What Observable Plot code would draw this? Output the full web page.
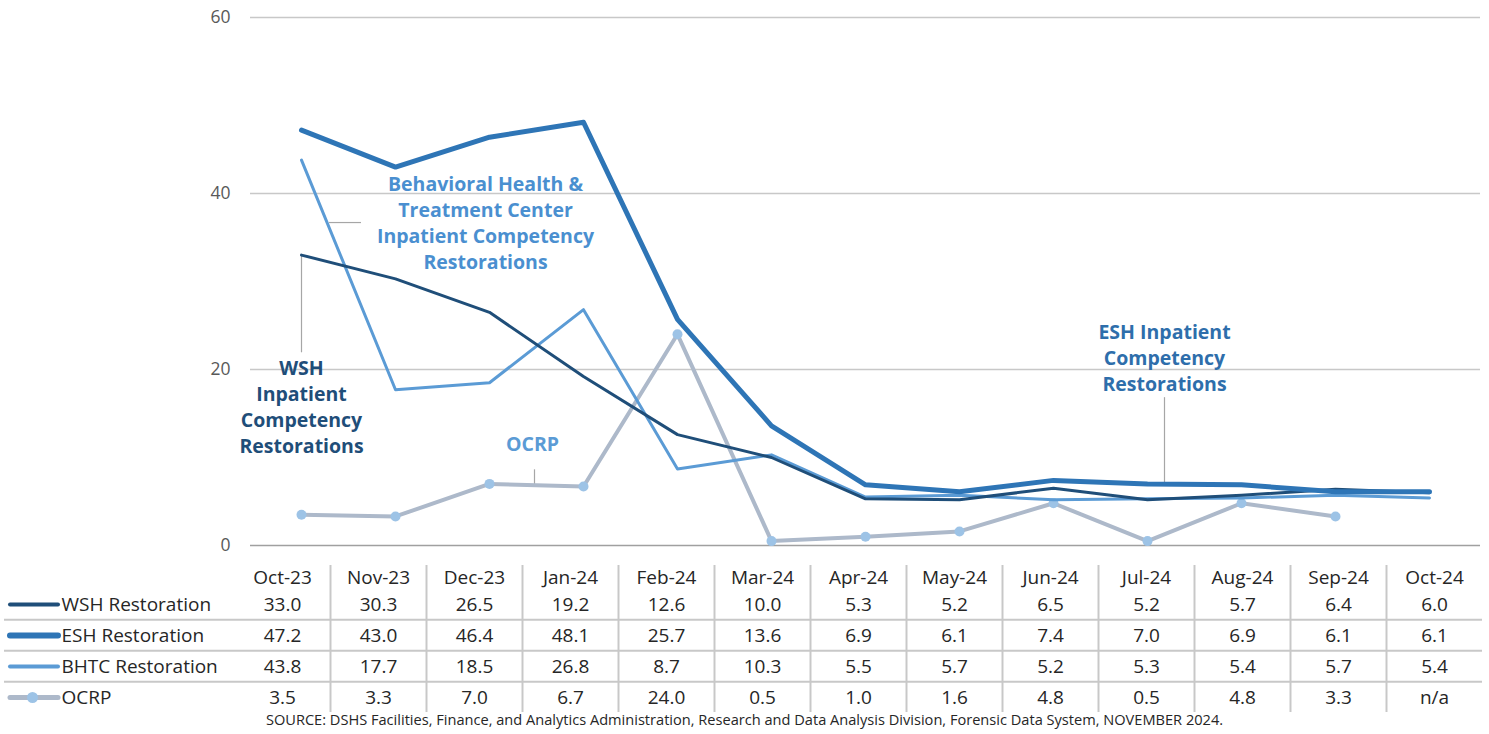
<!DOCTYPE html>
<html>
<head>
<meta charset="utf-8">
<script src="https://cdn.jsdelivr.net/npm/d3@7"></script>
<script src="https://cdn.jsdelivr.net/npm/@observablehq/plot@0.6"></script>
<style>
  html, body { margin: 0; padding: 0; background: #fff; }
  #wrap { width: 1489px; height: 734px; position: relative; overflow: hidden; font-family: "Open Sans", Lato, sans-serif; }
  #wrap svg { display: block; }
  #source { position: absolute; left: 0; top: 711px; width: 1489px; text-align: center; font-size: 14.6px; color: #262626; line-height: 17px; font-family: "Open Sans", Lato, sans-serif; }
</style>
</head>
<body>
<div id="wrap"></div>
<script>
const months = ["Oct-23","Nov-23","Dec-23","Jan-24","Feb-24","Mar-24","Apr-24","May-24","Jun-24","Jul-24","Aug-24","Sep-24","Oct-24"];
const wsh  = [33.0, 30.3, 26.5, 19.2, 12.6, 10.0, 5.3, 5.2, 6.5, 5.2, 5.7, 6.4, 6.0];
const esh  = [47.2, 43.0, 46.4, 48.1, 25.7, 13.6, 6.9, 6.1, 7.4, 7.0, 6.9, 6.1, 6.1];
const bhtc = [43.8, 17.7, 18.5, 26.8, 8.7, 10.3, 5.5, 5.7, 5.2, 5.3, 5.4, 5.7, 5.4];
const ocrp = [3.5, 3.3, 7.0, 6.7, 24.0, 0.5, 1.0, 1.6, 4.8, 0.5, 4.8, 3.3, null];
const seriesNames = ["WSH Restoration", "ESH Restoration", "BHTC Restoration", "OCRP"];
const yTicks = [0, 20, 40, 60];

const C = {wsh: "#1f4e79", esh: "#2e75b6", bhtc: "#5b9bd5", ocrpLine: "#adb9ca", ocrpDot: "#9dc3e6"};
const toRows = (arr) => months.map((m, i) => ({m, v: arr[i]}));
const WSH = toRows(wsh), ESH = toRows(esh), BHTC = toRows(bhtc), OCRP = toRows(ocrp);

const font = "'Open Sans', Lato, sans-serif";
const labelFont = {fontFamily: font, fontWeight: "bold", fontSize: 19.5, lineHeight: 1.33, textAnchor: "middle"};

const chart = Plot.plot({
  width: 1489, height: 560,
  marginLeft: 250, marginRight: 9, marginTop: 17, marginBottom: 15,
  style: {fontFamily: font, background: "#fff", overflow: "visible"},
  x: {type: "point", domain: months, padding: 0.5, axis: null},
  y: {domain: [0, 60], ticks: yTicks, label: null},
  marks: [
    Plot.ruleY([20, 40, 60], {stroke: "#c8c8c8", strokeWidth: 1.5}),
    Plot.ruleY([0], {stroke: "#a0a0a0", strokeWidth: 1.5}),
    Plot.axisY({ticks: yTicks, tickSize: 0, tickPadding: 20, fontSize: 17.5, fill: "#595959", label: null}),
    // leader lines
    Plot.ruleX(["Oct-23"], {x: d => d, y1: 21.9, y2: 33.0, stroke: "#a6a6a6", strokeWidth: 1.2}),
    Plot.ruleY([36.7], {x1: () => "Oct-23", x2: () => "Nov-23", insetLeft: 28, insetRight: 34, stroke: "#a6a6a6", strokeWidth: 1.2}),
    Plot.ruleX(["Dec-23"], {x: d => d, dx: 45, y1: 6.9, y2: 8.6, stroke: "#a6a6a6", strokeWidth: 1.2}),
    Plot.ruleX(["Jul-24"], {x: d => d, dx: 17, y1: 7.1, y2: 16.8, stroke: "#a6a6a6", strokeWidth: 1.2}),
    // series
    Plot.line(OCRP, {x: "m", y: "v", stroke: C.ocrpLine, strokeWidth: 4, strokeLinejoin: "round", strokeLinecap: "round"}),
    Plot.dot(OCRP.filter(d => d.v != null), {x: "m", y: "v", r: 5, fill: C.ocrpDot}),
    Plot.line(BHTC, {x: "m", y: "v", stroke: C.bhtc, strokeWidth: 3, strokeLinejoin: "round", strokeLinecap: "round"}),
    Plot.line(WSH, {x: "m", y: "v", stroke: C.wsh, strokeWidth: 3, strokeLinejoin: "round", strokeLinecap: "round"}),
    Plot.line(ESH, {x: "m", y: "v", stroke: C.esh, strokeWidth: 5, strokeLinejoin: "round", strokeLinecap: "round"}),
    // annotations
    Plot.text(["Behavioral Health &\nTreatment Center\nInpatient Competency\nRestorations"], {x: () => "Dec-23", y: () => 36.76, dx: -4, text: d => d, fill: "#4a8fd0", ...labelFont}),
    Plot.text(["WSH\nInpatient\nCompetency\nRestorations"], {x: () => "Oct-23", y: () => 15.85, text: d => d, fill: "#1f4e79", ...labelFont}),
    Plot.text(["OCRP"], {x: () => "Dec-23", y: () => 11.7, dx: 43, text: d => d, fill: "#5b9bd5", ...labelFont}),
    Plot.text(["ESH Inpatient\nCompetency\nRestorations"], {x: () => "Jul-24", y: () => 21.5, dx: 17, text: d => d, fill: "#2e6eab", ...labelFont})
  ]
});

// data table
const tableRows = [
  {name: seriesNames[0], vals: wsh},
  {name: seriesNames[1], vals: esh},
  {name: seriesNames[2], vals: bhtc},
  {name: seriesNames[3], vals: ocrp}
];
const cells = tableRows.flatMap(r => months.map((m, i) => ({row: r.name, m, t: r.vals[i] == null ? "n/a" : r.vals[i].toFixed(1)})));
const swatch = [
  {row: seriesNames[0], c: C.wsh, w: 4},
  {row: seriesNames[1], c: C.esh, w: 6},
  {row: seriesNames[2], c: C.bhtc, w: 4},
  {row: seriesNames[3], c: C.ocrpLine, w: 5}
];

const table = Plot.plot({
  width: 1489, height: 152,
  marginLeft: 4, marginRight: 7, marginTop: 5, marginBottom: 0,
  style: {fontFamily: font, background: "#fff", overflow: "visible"},
  x: {type: "band", domain: months, range: [234, 1482], padding: 0, axis: null},
  y: {type: "point", domain: seriesNames, range: [43, 137], padding: 0, axis: null},
  marks: [
    Plot.ruleY(seriesNames.slice(1), {y: d => d, dy: -15.7, stroke: "#c8c8c8", strokeWidth: 2}),
    Plot.ruleX(months.slice(1), {x: d => d, dx: -48, stroke: "#c8c8c8", strokeWidth: 2}),
    Plot.text(months, {x: d => d, frameAnchor: "top", lineAnchor: "middle", dy: 12, text: d => d, fontSize: 19, fill: "#262626"}),
    Plot.text(cells, {x: "m", y: "row", text: "t", fontSize: 19, fill: "#262626"}),
    Plot.ruleY(swatch, {y: "row", stroke: "c", strokeWidth: "w", insetLeft: 6, insetRight: 1424, strokeLinecap: "round"}),
    Plot.dot([seriesNames[3]], {y: d => d, frameAnchor: "left", dx: 28, r: 5.5, fill: C.ocrpDot}),
    Plot.text(seriesNames, {y: d => d, frameAnchor: "left", dx: 57, textAnchor: "start", text: d => d, fontSize: 19, fill: "#262626"})
  ]
});

const wrap = document.getElementById("wrap");
wrap.appendChild(chart);
wrap.appendChild(table);
const src = document.createElement("div");
src.id = "source";
src.textContent = "SOURCE: DSHS Facilities, Finance, and Analytics Administration, Research and Data Analysis Division, Forensic Data System, NOVEMBER 2024.";
wrap.appendChild(src);
</script>
</body>
</html>
